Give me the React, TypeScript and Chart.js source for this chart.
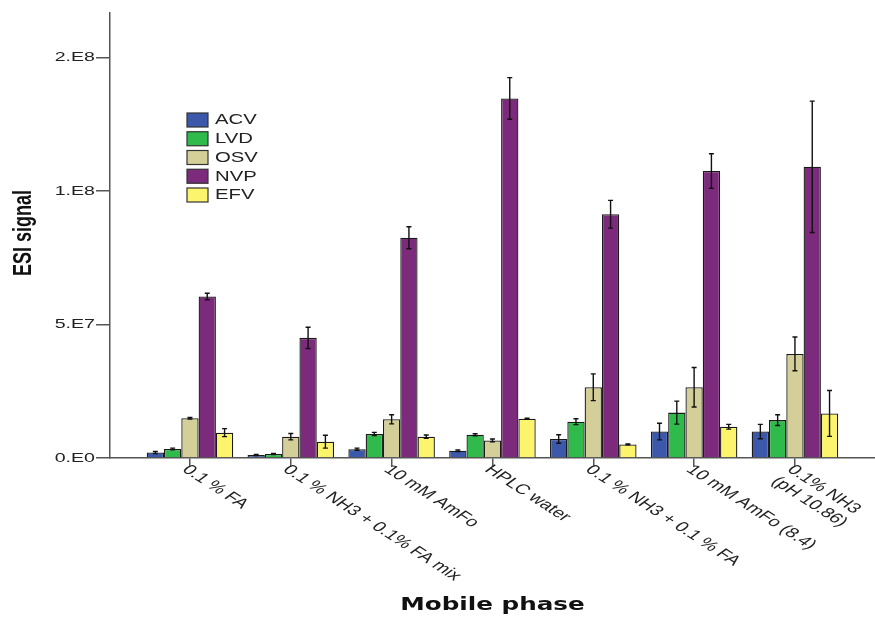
import React, { useEffect, useRef } from "react";
import { Chart, registerables } from "chart.js";

Chart.register(...registerables);

// Mobile phases on the x axis
const phases: (string | string[])[] = [
  "0.1 % FA",
  "0.1 % NH3 + 0.1% FA mix",
  "10 mM AmFo",
  "HPLC water",
  "0.1 % NH3 + 0.1 % FA",
  "10 mM AmFo (8.4)",
  ["0.1% NH3", "(pH 10.86)"],
];

const drugs = ["ACV", "LVD", "OSV", "NVP", "EFV"];
const drugColors = ["#3b58aa", "#2fba4b", "#d4cf99", "#7c2a7b", "#fcf46d"];

// Mean ESI signal per phase
const acv = [2.1e6, 1.1e6, 3.3e6, 2.7e6, 7.1e6, 9.9e6, 9.9e6];
const lvd = [3.4e6, 1.5e6, 9.0e6, 8.7e6, 1.36e7, 1.7e7, 1.42e7];
const osv = [1.49e7, 8.0e6, 1.45e7, 6.6e6, 2.65e7, 2.65e7, 3.9e7];
const nvp = [6.05e7, 4.5e7, 8.25e7, 1.347e8, 9.13e7, 1.075e8, 1.091e8];
const efv = [9.5e6, 6.1e6, 8.0e6, 1.47e7, 5.1e6, 1.17e7, 1.67e7];

// Error bar half-widths
const acvErr = [0.4e6, 0.2e6, 0.4e6, 0.3e6, 1.6e6, 3.1e6, 2.7e6];
const lvdErr = [0.3e6, 0.2e6, 0.6e6, 0.4e6, 1.1e6, 4.3e6, 2.0e6];
const osvErr = [0.3e6, 1.2e6, 1.7e6, 0.5e6, 5.0e6, 7.4e6, 6.3e6];
const nvpErr = [1.2e6, 4.0e6, 4.1e6, 7.8e6, 5.2e6, 6.5e6, 2.46e7];
const efvErr = [1.5e6, 2.4e6, 0.6e6, 0.2e6, 0.2e6, 0.9e6, 8.6e6];

const seriesValues = [acv, lvd, osv, nvp, efv];
const seriesErrors = [acvErr, lvdErr, osvErr, nvpErr, efvErr];

const yTickValues = [0, 5e7, 1e8, 1.5e8];
const yTickLabels = ["0.E0", "5.E7", "1.E8", "2.E8"];
const yMax = 1.667e8;

const yTitle = "ESI signal";
const xTitle = "Mobile phase";

const INK = "#222";
const AXIS = "#555";
const STRETCH = 1.45;

function stretchedText(
  ctx: CanvasRenderingContext2D,
  text: string,
  x: number,
  y: number,
  font: string,
  align: CanvasTextAlign,
  baseline: CanvasTextBaseline,
  angle = 0,
  color = INK
) {
  ctx.save();
  ctx.translate(x, y);
  ctx.scale(STRETCH, 1);
  ctx.rotate(angle);
  ctx.font = font;
  ctx.textAlign = align;
  ctx.textBaseline = baseline;
  ctx.fillStyle = color;
  ctx.fillText(text, 0, 0);
  ctx.restore();
}

const decorations = {
  id: "decorations",
  afterDatasetsDraw(chart: any) {
    const ctx: CanvasRenderingContext2D = chart.ctx;
    const yScale = chart.scales.y;
    ctx.save();
    ctx.strokeStyle = "#111";
    ctx.lineWidth = 1.4;
    chart.data.datasets.forEach((ds: any, di: number) => {
      const meta = chart.getDatasetMeta(di);
      meta.data.forEach((bar: any, i: number) => {
        const v = ds.data[i].y;
        const e = ds.errors[i];
        const x = bar.x;
        const top = yScale.getPixelForValue(v + e);
        const bot = yScale.getPixelForValue(Math.max(0, v - e));
        ctx.beginPath();
        ctx.moveTo(x, top);
        ctx.lineTo(x, bot);
        ctx.moveTo(x - 2.5, top);
        ctx.lineTo(x + 2.5, top);
        ctx.moveTo(x - 2.5, bot);
        ctx.lineTo(x + 2.5, bot);
        ctx.stroke();
      });
    });
    ctx.restore();
  },
  afterDraw(chart: any) {
    const ctx: CanvasRenderingContext2D = chart.ctx;
    const xScale = chart.scales.x;
    const yScale = chart.scales.y;

    // y tick labels
    yTickValues.forEach((v, i) => {
      stretchedText(ctx, yTickLabels[i], 95, yScale.getPixelForValue(v), '13.5px "Liberation Sans"', "right", "middle");
    });

    // slanted phase labels
    const angle = (43 * Math.PI) / 180;
    phases.forEach((label, i) => {
      const lines = Array.isArray(label) ? label : [label];
      const x0 = xScale.getPixelForValue(i) + 2;
      const y0 = chart.chartArea.bottom + 4.5;
      ctx.save();
      ctx.translate(x0, y0);
      ctx.scale(STRETCH, 1);
      ctx.rotate(angle);
      ctx.font = '14px "Liberation Sans"';
      ctx.textAlign = "left";
      ctx.textBaseline = "top";
      ctx.fillStyle = INK;
      lines.forEach((ln, li) => ctx.fillText(ln, 0, li * 16));
      ctx.restore();
    });

    // axis titles
    stretchedText(ctx, yTitle, 24, 233, 'bold 18px "Liberation Sans"', "center", "middle", -Math.PI / 2, "#111");
    stretchedText(ctx, xTitle, 492.5, 606, 'bold 17px "DejaVu Sans"', "center", "middle", 0, "#111");

    // legend
    chart.data.datasets.forEach((ds: any, i: number) => {
      const top = 113 + i * 18.75;
      ctx.save();
      ctx.fillStyle = ds.backgroundColor;
      ctx.fillRect(187, top, 21, 14);
      ctx.strokeStyle = "#333";
      ctx.lineWidth = 1.2;
      ctx.strokeRect(187, top, 21, 14);
      ctx.restore();
      stretchedText(ctx, ds.label, 215, top + 7.5, '14px "Liberation Sans"', "left", "middle");
    });
  },
};

export default function App() {
  const canvasRef = useRef<HTMLCanvasElement | null>(null);

  useEffect(() => {
    if (!canvasRef.current) return;
    const datasets = drugs.map((name, di) => ({
      label: name,
      data: seriesValues[di].map((v, i) => ({ x: i, y: v })),
      errors: seriesErrors[di],
      backgroundColor: drugColors[di],
      borderColor: "#1a1a1a",
      borderWidth: 1.3,
      categoryPercentage: 0.858,
      barPercentage: 1,
    }));

    const chart = new Chart(canvasRef.current, {
      type: "bar",
      data: { datasets } as any,
      options: {
        responsive: false,
        animation: false,
        layout: { padding: { top: 13, left: 0, right: 0, bottom: 0 } },
        plugins: { legend: { display: false }, tooltip: { enabled: false } },
        scales: {
          x: {
            type: "linear",
            min: -0.793,
            max: 6.794,
            offset: false,
            grid: {
              offset: false,
              drawOnChartArea: false,
              drawTicks: true,
              tickLength: 9,
              color: AXIS,
              lineWidth: 1.5,
            },
            border: { display: true, color: AXIS, width: 1.5 },
            ticks: { display: false },
            afterBuildTicks: (s: any) => {
              s.ticks = phases.map((_, i) => ({ value: i }));
            },
            afterFit: (s: any) => {
              s.height = 161;
            },
          },
          y: {
            type: "linear",
            min: 0,
            max: yMax,
            grid: {
              drawOnChartArea: false,
              drawTicks: true,
              tickLength: 14,
              color: AXIS,
              lineWidth: 1.5,
            },
            border: { display: true, color: AXIS, width: 1.5 },
            ticks: { display: false },
            afterBuildTicks: (s: any) => {
              s.ticks = yTickValues.map((v) => ({ value: v }));
            },
            afterFit: (s: any) => {
              s.width = 110;
            },
          },
        },
      } as any,
      plugins: [decorations],
    });

    return () => chart.destroy();
  }, []);

  return (
    <div style={{ position: "absolute", left: 0, top: 0, width: 875, height: 619, background: "#fff" }}>
      <canvas ref={canvasRef} width={875} height={619} style={{ display: "block" }} />
    </div>
  );
}
